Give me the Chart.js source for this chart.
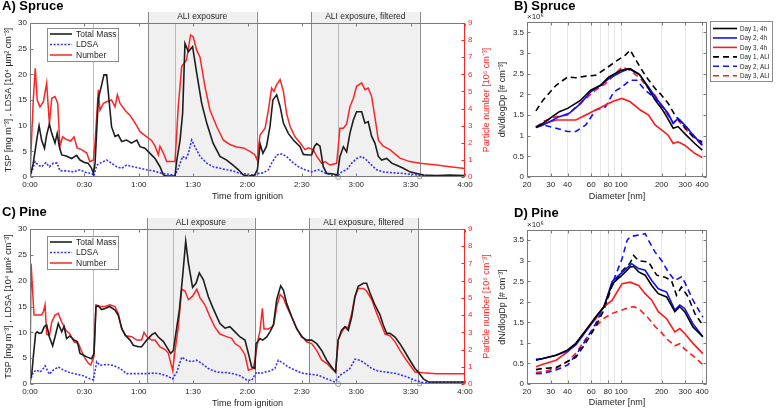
<!DOCTYPE html>
<html>
<head>
<meta charset="utf-8">
<title>Spruce and pine: time series and size distributions</title>
<script src="https://cdn.jsdelivr.net/npm/chart.js@4.4.1/dist/chart.umd.min.js"></script>
<style>
  body { margin: 0; background: #fff; }
  #wrap { position: relative; width: 778px; height: 411px; overflow: hidden; }
  canvas { position: absolute; }
</style>
</head>
<body>
<div id="wrap">
  <canvas id="chartA" width="495" height="205" style="left:0;top:0"></canvas>
  <canvas id="chartB" width="283" height="205" style="left:495px;top:0"></canvas>
  <canvas id="chartC" width="495" height="206" style="left:0;top:205px"></canvas>
  <canvas id="chartD" width="283" height="206" style="left:495px;top:205px"></canvas>
</div>
<script>
// time series: [minutes from ignition, value]; mass and LDSA on the left axis, number in 10^6 cm-3
const spruceMass = [[0,0],[1.8,2.7],[3.7,7.2],[5,10],[6.4,7.2],[8,5.6],[9.2,8.2],[10.7,10.3],[12,8.5],[13.8,6.6],[15,8.5],[16.2,5.9],[17.5,4.3],[20,4.1],[23,3.6],[25.7,4.2],[27.6,3.3],[30.3,2.8],[32,2.7],[34,1.7],[35,0.7],[35.9,2.7],[37.7,15.3],[39.5,17.9],[40.8,19.9],[42.3,19.9],[43.6,15],[45,9.8],[46.9,7.9],[48.7,8.2],[50.6,6.9],[53.3,7.2],[56,6.6],[58.9,7.2],[60.7,5.9],[63.4,5.6],[66.2,4.6],[69,3.6],[71.7,2.0],[73.6,0.4],[75.4,0.2],[80,0.2],[81,3.3],[82.8,7.2],[84.2,12.4],[85.5,26],[87.4,24.4],[89.7,25.4],[92,20.2],[94.7,14.4],[97.5,10.5],[101,6.6],[104.8,4.0],[108.5,3.3],[112,2.3],[115,1.4],[117.7,0.4],[121,0.2],[124,0.4],[125.5,1.5],[127,6.4],[128.5,4.6],[130.5,6.0],[132.4,9.8],[134,15],[136.1,16],[138,13.7],[139.8,10.5],[142.5,8.5],[145.3,7.2],[149,5.9],[150.8,4.4],[153.6,4.3],[155.4,4.3],[157,6.0],[158.2,6.5],[160,6.0],[161.8,2.0],[163.7,0.7],[167.4,0.6],[169.6,0.4],[171,4],[172.9,5.9],[174.7,4.9],[176.5,8.5],[178.4,11.1],[180.2,12.7],[183,12.7],[184.8,10.5],[186.6,10.8],[188.5,7.9],[190.3,6.6],[192.2,4],[194,3.3],[196.8,3.6],[199.6,2.7],[202.3,2.3],[206,1.7],[209.6,1.0],[213.4,0.7],[217.2,0.4],[224.3,0.3],[231.7,0.4],[240,0.3]];
const spruceLdsa = [[0,0],[2.8,3.0],[4.6,2.3],[6.4,2.0],[8.8,2.8],[10.7,2.0],[12.9,2.7],[15,2.7],[16.5,1.2],[20,1.2],[23.9,1.0],[27.6,1.4],[31.3,0.8],[34,0.7],[35.3,0.2],[36.8,2.3],[38.6,2.7],[42.3,3.3],[45,2.7],[47.8,2.0],[50.6,1.7],[53.3,2.3],[57,2.0],[60.7,1.7],[64.4,1.4],[68,1.2],[71.7,0.8],[75.4,0.6],[80,0.3],[81.8,1.7],[84.2,4.0],[86,3.6],[87.4,4.6],[89.2,7.2],[91,5.9],[93.8,4.0],[97.5,2.7],[101,2.0],[104.8,1.7],[108.5,1.4],[112,1.2],[115.9,0.7],[119.5,0.6],[123.2,0.3],[126,0.7],[128.8,0.8],[131.5,1.4],[133.3,2.7],[136.1,4.3],[138.9,4.5],[141.6,4.0],[144.4,3.0],[148.1,2.0],[151.7,1.4],[155.4,1.0],[159.1,1.4],[162.8,0.8],[166.5,0.4],[169.6,0.2],[172,1.0],[174.7,1.4],[177.5,2.7],[180.2,3.6],[183,4.0],[185.7,3.3],[188.5,2.3],[191.3,1.4],[194.9,1.0],[200.4,0.8],[206,0.7],[213.4,0.4],[220.8,0.2],[240,0.2]];
const spruceNumber = [[0,0.1],[1.8,4.5],[2.9,6.35],[4,4.5],[5.5,4.1],[7.4,4.4],[9.2,5.5],[10.7,3.1],[12,4.6],[13.8,4.7],[15.3,4.3],[16.5,1.8],[18,2.35],[20,2.2],[22.4,2.1],[24.3,2.35],[26,1.7],[28.5,1.6],[31.3,1.4],[33,0.9],[35,1.0],[35.9,2.0],[37.7,5.1],[38.6,3.9],[40.5,4.3],[42.3,4.4],[45,4.5],[46.9,4.1],[48.2,4.8],[49.7,4.3],[52.4,3.9],[55.2,3.6],[58,3.15],[60.7,2.65],[64.4,2.35],[67,2.15],[69,1.8],[70.8,1.3],[71.7,1.8],[73.6,1.4],[75.4,0.9],[80,0.9],[81.8,4.1],[83.7,6.45],[86.4,6.85],[88.6,8.3],[90,8.2],[92,7.4],[93.8,7.0],[96.5,5.3],[99.3,3.9],[103,2.95],[106.7,2.15],[110.3,1.9],[114,1.75],[117.7,1.7],[121.4,1.5],[124,1.3],[125.3,1.0],[126.9,2.45],[129.7,2.85],[131.5,3.9],[133.3,5.2],[134.6,5.0],[136.1,5.4],[138,5.7],[139.8,5.0],[141.6,3.7],[143.5,2.95],[146.2,2.35],[149,2.0],[151.7,1.6],[153.6,1.7],[156.3,1.6],[158.2,1.2],[160.9,0.8],[162.8,0.9],[165.5,0.7],[169.2,0.8],[171,2.85],[172.9,2.85],[174.7,3.1],[176.5,4.1],[178.4,4.6],[180.2,5.3],[183,5.5],[184.8,5.1],[186.6,5.2],[188.5,4.7],[190.3,3.5],[192.2,2.15],[194.9,1.8],[198.6,1.6],[204.1,1.1],[209.6,0.9],[215.2,0.8],[224.3,0.7],[231.7,0.6],[240,0.5]];

const pineMass = [[0,0.4],[1,2],[1.8,5.2],[3.1,9.8],[4,10.1],[5.1,9.8],[6.4,9.9],[7.9,11.1],[9.2,11.4],[10.7,9.1],[12.5,7.4],[13.8,9.1],[15.6,11.7],[17.5,10.1],[18.8,11.1],[20.2,8.8],[22,9.3],[24.3,8.5],[26.1,8.2],[27.6,5.9],[29.4,5.6],[31.6,5.2],[34,4.9],[35.3,5.9],[36.4,15],[37.7,15.1],[39.5,14.4],[41.4,14.6],[44,15.0],[46.9,14.3],[48.7,13.3],[50.6,10.8],[52.4,9.5],[55.2,8.5],[57,7.5],[59.8,7.2],[61.6,7.2],[64.4,8.5],[67.1,9.5],[69,9.9],[70.8,9.1],[73.6,8.2],[75.4,7.2],[77.6,5.9],[79.1,6.5],[80.6,10.1],[82.4,14.3],[84.2,20.8],[85.9,27.6],[87.4,23.4],[89.7,18.7],[91.6,19.5],[93.4,21.5],[95.6,20.2],[98.4,16.9],[101.1,14.6],[104.8,11.7],[107.6,10.8],[110.3,11.1],[113.1,10.1],[115.9,9.1],[118.6,8.5],[120.5,5.9],[122.3,3.3],[124.1,3.0],[124.7,7.8],[126.9,8.8],[128.4,8.5],[130.6,9.1],[132.4,10.1],[134.3,11.4],[136.1,16.3],[138.3,19],[139.8,18.2],[141.6,15.6],[144.4,13.0],[147.1,10.8],[149.9,9.1],[152.6,8.5],[155.4,8.5],[158.2,7.8],[160.9,6.5],[163.7,4.6],[166.4,3.3],[168.6,2.3],[170,8.5],[171.9,10.4],[173.8,11.1],[175.6,10.4],[177.5,13.0],[179.3,16.9],[181.1,18.9],[183.9,19.5],[185.7,19.5],[187.6,17.6],[190.3,15.3],[193.1,13.4],[194.9,11.4],[196.8,9.8],[198.6,9.8],[201.4,9.1],[204.1,7.8],[206.9,6.2],[209.6,4.6],[212.4,3.0],[214.2,2.3],[217,1.0],[219.8,0.4],[228,0.4],[240,0.4]];
const pineLdsa = [[0,0.5],[1.8,2.3],[3.7,2.7],[5.5,2.3],[7.4,3.0],[8.3,3.5],[10.7,1.9],[12.9,2.7],[15.6,3.3],[18.4,2.7],[22,2.2],[25.7,1.9],[29.4,1.6],[33.1,1.0],[35,0.8],[36.8,4.3],[38.6,3.6],[42.3,3.8],[46,3.6],[49.7,3.0],[53.3,2.0],[57,2.0],[60.7,2.0],[64.4,2.0],[68,2.1],[71.7,2.0],[75.4,1.6],[78.7,1.0],[81,2.3],[83.7,5.2],[86.4,4.6],[89.2,4.3],[92,4.6],[94.7,4.0],[98.4,3.0],[103,2.3],[108.5,2.2],[112.2,2.0],[115.9,1.6],[119.5,0.8],[122.3,0.7],[125,2.3],[126.9,2.0],[129.6,2.3],[132.4,2.5],[135.1,3.0],[137,4.6],[139.8,4.0],[142.5,3.3],[146.2,2.7],[149.9,2.1],[154.5,1.9],[159.1,1.7],[163.7,1.0],[168.2,0.4],[171,1.7],[173.8,2.3],[176.5,3.0],[179.3,4.8],[182,4.6],[184.8,4.0],[188.5,3.0],[192.2,2.5],[196.8,2.3],[202.3,2.0],[207.8,1.4],[212.4,0.7],[217,0.3],[240,0.3]];
const pineNumber = [[0,0.2],[0.6,7.0],[2.2,4.0],[4.6,4.0],[6.4,4.0],[7.4,4.2],[8.3,4.6],[9.2,2.9],[10.7,2.8],[12,3.6],[13.8,4.0],[15.6,4.1],[17.5,3.6],[19.9,3.1],[22,2.9],[24.3,2.45],[26.7,2.35],[28.5,1.9],[30.3,1.5],[32.2,1.2],[33.5,1.1],[35.3,1.6],[36.4,4.6],[38.6,4.5],[41.4,4.5],[44.1,4.6],[46.9,4.5],[48.7,4.1],[50.6,3.2],[53,2.8],[56.1,2.75],[58.9,2.55],[61.6,2.55],[62.9,3.0],[64.4,2.75],[67.1,2.55],[69,2.55],[71.7,2.15],[74.5,2.0],[76.3,1.8],[77.2,1.4],[78.7,0.8],[80,1.9],[81.8,3.3],[83.7,5.5],[85.5,5.4],[87.4,4.9],[89.7,5.1],[92,5.5],[93.8,5.0],[96.5,4.6],[99.3,3.9],[102,3.3],[104.8,2.9],[108.5,2.75],[111.3,2.65],[113.1,2.35],[115.9,2.15],[118.6,1.7],[120.5,0.8],[123.2,0.9],[124.1,1.4],[126,2.65],[126.9,3.1],[128.2,4.4],[129.1,3.2],[131.5,3.2],[133.3,3.3],[134.6,3.5],[136.1,4.5],[138,5.2],[139.8,5.0],[141.6,4.5],[144.4,3.9],[147.1,3.2],[149.9,2.8],[152.6,2.45],[155.4,2.35],[158.2,1.95],[160.9,1.4],[163.7,1.2],[166.4,0.9],[168.6,0.7],[170,2.55],[171.9,3.0],[173.8,3.3],[175.6,3.3],[177.5,4.1],[179.3,5.1],[181.1,5.55],[183.9,5.55],[185.7,5.4],[188.5,4.9],[191.3,4.1],[194,3.4],[195.9,2.9],[198.6,2.8],[201.4,2.45],[204.1,1.95],[206.9,1.5],[209.6,1.1],[212.4,0.7],[217,0.65],[224.3,0.6],[240,0.6]];

// exposure windows (minutes) and the thin marker lines
const spruceWindows = [[65,125],[155,215]];
const spruceLines = [35,80,170];
const pineWindows = [[64.5,124],[154,214]];
const pineLines = [34.5,79,169];
const windowLabels = ['ALI exposure','ALI exposure, filtered'];
const startMarks = [[170,0]];
const endMarks = [[215,0]];

// size distributions: [diameter nm, dN/dlogDp in 10^6 cm-3]
const spruceDay1 = [[23.3,1.2],[26.3,1.30],[34.8,1.58],[40.1,1.66],[50.2,1.86],[59.4,2.10],[70.5,2.22],[81.2,2.42],[100,2.58],[117,2.62],[139,2.46],[160,2.14],[179,1.86],[200,1.66],[218,1.46],[244,1.18],[265,1.22],[297,1.05],[353,0.81],[401,0.65]];
const spruceDay2 = [[23.3,1.2],[26.3,1.26],[34.8,1.46],[41.2,1.54],[50.2,1.78],[59.4,2.06],[70.5,2.22],[81.2,2.38],[100,2.54],[114,2.62],[135,2.50],[160,2.18],[179,1.94],[200,1.74],[224,1.54],[244,1.30],[265,1.42],[297,1.26],[353,0.97],[401,0.77]];
const spruceDay3 = [[23.3,1.22],[26.3,1.28],[32.9,1.38],[40.1,1.38],[46.1,1.38],[54.7,1.50],[64.7,1.62],[76.7,1.74],[88.3,1.84],[101.7,1.90],[117,1.82],[139,1.62],[160,1.50],[179,1.26],[200,1.14],[224,1.01],[244,0.81],[265,0.85],[297,0.77],[353,0.57],[401,0.47]];
const spruceAli1 = [[23.3,1.6],[26.3,1.86],[32.9,2.22],[40.1,2.42],[46.1,2.40],[54.7,2.44],[64.7,2.46],[76.7,2.62],[90.8,2.79],[107.6,2.95],[117,3.07],[131,2.79],[151,2.46],[179,2.14],[200,1.98],[224,1.78],[251,1.50],[281,1.30],[315,1.10],[353,0.93],[401,0.85]];
const spruceAli2 = [[23.3,1.2],[26.3,1.26],[32.9,1.18],[40.1,1.10],[46.1,1.10],[54.7,1.26],[64.7,1.62],[76.7,1.70],[88.3,2.06],[101.7,2.18],[117,2.34],[131,2.34],[151,2.10],[179,1.90],[200,1.74],[224,1.50],[244,1.30],[265,1.42],[297,1.26],[353,0.97],[401,0.81]];
const spruceAli3 = [[23.3,1.2],[26.3,1.34],[32.9,1.46],[40.1,1.50],[46.1,1.70],[54.7,1.90],[64.7,2.10],[76.7,2.26],[88.3,2.46],[101.7,2.66],[117,2.58],[139,2.38],[160,2.14],[179,1.98],[200,1.70],[224,1.50],[244,1.30],[265,1.38],[297,1.18],[353,0.93],[401,0.77]];

const pineDay1 = [[23.3,0.58],[26.3,0.62],[32.9,0.70],[40.1,0.83],[46.1,0.99],[54.7,1.31],[64.7,1.63],[74.6,1.88],[85.9,2.44],[101.7,2.65],[117,2.85],[124,2.86],[135,2.73],[151,2.65],[169,2.40],[189,2.20],[218,2.12],[251,1.76],[273,1.88],[297,1.76],[342,1.39],[405,1.15]];
const pineDay2 = [[23.3,0.60],[26.3,0.62],[32.9,0.70],[40.1,0.80],[46.1,0.95],[54.7,1.28],[64.7,1.62],[74.6,1.88],[85.9,2.50],[101.7,2.72],[120,2.93],[135,2.81],[151,2.77],[169,2.52],[189,2.32],[218,2.24],[251,1.80],[273,1.92],[297,1.84],[342,1.47],[405,1.15]];
const pineDay3 = [[23.3,0.42],[26.3,0.48],[32.9,0.58],[40.1,0.78],[46.1,0.98],[54.7,1.30],[64.7,1.58],[74.6,1.88],[85.9,2.04],[101.7,2.44],[117,2.48],[135,2.40],[151,2.20],[169,2.04],[189,1.76],[218,1.59],[251,1.27],[273,1.35],[297,1.23],[342,0.99],[405,0.74]];
const pineAli1 = [[23.3,0.35],[26.3,0.38],[32.9,0.40],[40.1,0.55],[46.1,0.65],[54.7,1.00],[64.7,1.40],[74.6,1.80],[85.9,2.40],[101.7,2.75],[117,2.95],[124,3.13],[135,3.0],[160,2.97],[184,2.65],[212,2.60],[237,2.52],[258,2.16],[281,2.36],[315,2.12],[353,1.72],[405,1.43]];
const pineAli2 = [[23.3,0.25],[26.3,0.26],[32.9,0.34],[40.1,0.46],[46.1,0.70],[54.7,1.07],[64.7,1.47],[74.6,1.88],[85.9,2.44],[101.7,3.05],[111,3.50],[117,3.59],[131,3.62],[151,3.66],[160,3.50],[179,3.21],[200,3.01],[224,2.73],[251,2.52],[281,2.61],[297,2.48],[342,2.04],[405,1.63]];
const pineAli3 = [[23.3,0.28],[26.3,0.30],[32.9,0.38],[40.1,0.55],[46.1,0.75],[54.7,1.10],[64.7,1.40],[74.6,1.60],[85.9,1.72],[101.7,1.80],[117,1.87],[126,1.88],[139,1.80],[160,1.60],[179,1.40],[200,1.25],[218,1.10],[251,0.93],[273,0.98],[297,0.85],[353,0.65],[405,0.47]];

const sizeLabels = ['Day 1, 4h','Day 2, 4h','Day 3, 4h','Day 1, ALI','Day 2, ALI','Day 3, ALI'];
const diaGrid = [20,30,40,50,60,70,80,90,100,200,300,400];
const diaLabels = [20,30,40,60,80,100,200,300,400];

const FONT = '"Liberation Sans", Arial, sans-serif';
const TXT = '#262626';
const AXIS = '#7a7a7a';
const RED = '#ff2424';

function pts(arr) { return arr.map(p => ({x: p[0], y: p[1]})); }
function hm(v) { return Math.floor(v / 60) + ':' + String(Math.round(v % 60)).padStart(2, '0'); }
function crisp(v) { return Math.round(v) + 0.5; }

// shaded windows, box, inward ticks, legend and panel labels
const panelPlugin = {
  id: 'panel',
  beforeDatasetsDraw(chart, args, o) {
    const {ctx, chartArea: a} = chart;
    const x = chart.scales.x;
    ctx.save();
    const top = a.top - (o.rise || 0);
    (o.windows || []).forEach(w => {
      const x0 = x.getPixelForValue(w[0]), x1 = x.getPixelForValue(w[1]);
      ctx.fillStyle = '#f0f0f0';
      ctx.fillRect(x0, top, x1 - x0, a.bottom - top);
    });
    ctx.lineWidth = 1;
    ctx.strokeStyle = '#b8b8b8';
    (o.lines || []).forEach(t => {
      const px = crisp(x.getPixelForValue(t));
      ctx.beginPath(); ctx.moveTo(px, a.top); ctx.lineTo(px, a.bottom); ctx.stroke();
    });
    ctx.strokeStyle = '#8c8c8c';
    ctx.fillStyle = TXT;
    ctx.font = '8.5px ' + FONT;
    ctx.textAlign = 'center';
    ctx.textBaseline = 'middle';
    (o.windows || []).forEach((w, i) => {
      const x0 = x.getPixelForValue(w[0]), x1 = x.getPixelForValue(w[1]);
      [x0, x1].forEach(px => {
        ctx.beginPath(); ctx.moveTo(crisp(px), top); ctx.lineTo(crisp(px), a.bottom); ctx.stroke();
      });
      ctx.fillText(windowLabels[i], (x0 + x1) / 2, a.top - o.rise / 2 - 0.5);
    });
    ctx.restore();
  },
  afterDatasetsDraw(chart, args, o) {
    const {ctx, chartArea: a, scales} = chart;
    ctx.save();
    ctx.lineWidth = 1;
    ctx.strokeStyle = AXIS;
    const L = Math.round(a.left) + 0.5, R = Math.round(a.right) - 0.5;
    const T = Math.round(a.top) + 0.5, B = Math.round(a.bottom) - 0.5;
    ctx.strokeRect(L, T, R - L, B - T);
    const tk = 3;
    // x ticks
    const xv = o.xTicks || scales.x.ticks.map(t => t.value);
    xv.forEach(v => {
      const px = crisp(scales.x.getPixelForValue(v));
      ctx.beginPath();
      ctx.moveTo(px, B); ctx.lineTo(px, B - tk);
      ctx.moveTo(px, T); ctx.lineTo(px, T + tk);
      ctx.stroke();
    });
    scales.y.ticks.forEach(t => {
      const py = crisp(scales.y.getPixelForValue(t.value));
      ctx.beginPath();
      ctx.moveTo(L, py); ctx.lineTo(L + tk, py);
      if (!scales.yN) { ctx.moveTo(R, py); ctx.lineTo(R - tk, py); }
      ctx.stroke();
    });
    if (scales.yN) {
      ctx.strokeStyle = RED;
      ctx.beginPath(); ctx.moveTo(R, T); ctx.lineTo(R, B); ctx.stroke();
      scales.yN.ticks.forEach(t => {
        const py = crisp(scales.yN.getPixelForValue(t.value));
        ctx.beginPath(); ctx.moveTo(R, py); ctx.lineTo(R - tk, py); ctx.stroke();
      });
      ctx.save();
      ctx.translate(a.right + 22, (a.top + a.bottom) / 2);
      ctx.rotate(-Math.PI / 2);
      ctx.fillStyle = RED;
      ctx.font = '9px ' + FONT;
      ctx.textAlign = 'center';
      ctx.textBaseline = 'middle';
      ctx.fillText('Particle number [10⁶ cm⁻³]', 0, 0);
      ctx.restore();
    }
    // legend
    if (o.legend) {
      const g = o.legend;
      ctx.fillStyle = '#fff';
      ctx.fillRect(g.x, g.y, g.w, g.h);
      ctx.strokeStyle = '#8c8c8c';
      ctx.strokeRect(g.x + 0.5, g.y + 0.5, g.w, g.h);
      ctx.font = g.size + 'px ' + FONT;
      ctx.textAlign = 'left';
      ctx.textBaseline = 'middle';
      g.items.forEach((idx, i) => {
        const ds = chart.data.datasets[idx];
        const y = g.y + g.first + i * g.step;
        ctx.strokeStyle = ds.borderColor;
        ctx.lineWidth = ds.borderWidth;
        ctx.setLineDash(ds.borderDash || []);
        ctx.beginPath(); ctx.moveTo(g.x + g.l0, y); ctx.lineTo(g.x + g.l1, y); ctx.stroke();
        ctx.setLineDash([]);
        ctx.fillStyle = TXT;
        ctx.fillText(ds.label, g.x + g.tx, y + 0.5);
      });
    }
    // panel title
    ctx.fillStyle = '#000';
    ctx.font = 'bold 13px ' + FONT;
    ctx.textAlign = 'left';
    ctx.textBaseline = 'middle';
    ctx.fillText(o.title, o.titleX, o.titleY);
    if (o.exponent) {
      ctx.font = '8px ' + FONT;
      ctx.fillStyle = TXT;
      ctx.textBaseline = 'bottom';
      ctx.fillText('×10⁶', a.left, a.top - 1);
    }
    ctx.restore();
  }
};

const tickFont = {family: FONT, size: 8};
const titleFont = {family: FONT, size: 9};

function timeChart(id, c) {
  return new Chart(document.getElementById(id), {
    type: 'line',
    data: {
      datasets: [
        {label: 'Total Mass', data: pts(c.mass), borderColor: '#1e1e1e', borderWidth: 1.6, yAxisID: 'y'},
        {label: 'LDSA', data: pts(c.ldsa), borderColor: '#3030ff', borderWidth: 1.6, borderDash: [2, 1.6], yAxisID: 'y'},
        {label: 'Number', data: pts(c.num), borderColor: RED, borderWidth: 1.5, yAxisID: 'yN'},
        {label: 'start', data: pts(startMarks), showLine: false, pointRadius: 2.5, pointStyle: 'circle',
         borderColor: '#a0a0a0', borderWidth: 1, backgroundColor: 'rgba(0,0,0,0)', clip: false, yAxisID: 'y'},
        {label: 'end', data: pts(endMarks), showLine: false, pointRadius: 2.5, pointStyle: 'rect',
         borderColor: '#a0a0a0', borderWidth: 1, backgroundColor: 'rgba(0,0,0,0)', clip: false, yAxisID: 'y'}
      ]
    },
    options: {
      responsive: false, animation: false, events: [],
      elements: {point: {radius: 0}, line: {tension: 0}},
      layout: {padding: {top: c.top, left: 0, right: 0, bottom: 0}},
      plugins: {
        legend: {display: false}, tooltip: {enabled: false},
        panel: {
          windows: c.windows, lines: c.lines, rise: 11,
          title: c.title, titleX: 2, titleY: c.titleY,
          legend: {x: 47, y: c.legY, w: 71, h: 33, first: 6, step: 10.5, l0: 3, l1: 25, tx: 29, size: 8.5, items: [0, 1, 2]}
        }
      },
      scales: {
        x: {
          type: 'linear', min: 0, max: 240,
          grid: {display: false, drawTicks: false}, border: {display: false},
          ticks: {font: tickFont, color: TXT, stepSize: 30, padding: 3, maxRotation: 0, autoSkip: false, callback: v => hm(v)},
          title: {display: true, text: 'Time from ignition', font: titleFont, color: TXT, padding: {top: 0, bottom: c.xPad}},
          afterFit: s => { s.height = c.xh; }
        },
        y: {
          position: 'left', min: 0, max: 30,
          grid: {display: false, drawTicks: false}, border: {display: false},
          ticks: {font: tickFont, color: TXT, stepSize: 5, padding: 3, autoSkip: false, callback: v => String(v)},
          title: {display: true, text: 'TSP [mg m⁻³] , LDSA [10⁴ µm² cm⁻³]', font: titleFont, color: TXT, padding: {top: 3, bottom: 0}},
          afterFit: s => { s.width = 30; }
        },
        yN: {
          position: 'right', min: 0, max: 9,
          grid: {display: false, drawTicks: false}, border: {display: false},
          ticks: {font: tickFont, color: RED, stepSize: 1, padding: 3, autoSkip: false, callback: v => String(v)},
          afterFit: s => { s.width = 30; }
        }
      }
    },
    plugins: [panelPlugin]
  });
}

function sizeChart(id, c) {
  const colors = ['#000000', '#1010ff', '#ff1a1a'];
  const datasets = c.series.map((s, i) => ({
    label: sizeLabels[i],
    data: pts(s),
    borderColor: colors[i % 3],
    borderWidth: 1.6,
    borderDash: i >= 3 ? [6, 4] : undefined
  }));
  return new Chart(document.getElementById(id), {
    type: 'line',
    data: {datasets: datasets},
    options: {
      responsive: false, animation: false, events: [],
      elements: {point: {radius: 0}, line: {tension: 0}},
      layout: {padding: {top: c.top, left: 0, right: 71, bottom: 0}},
      plugins: {
        legend: {display: false}, tooltip: {enabled: false},
        panel: {
          title: c.title, titleX: 19, titleY: c.titleY, exponent: true, xTicks: diaLabels,
          legend: c.legend ? {x: 215, y: 21, w: 62, h: 60, first: 7.5, step: 9.45, l0: 3, l1: 27, tx: 30, size: 6.3, items: [0, 1, 2, 3, 4, 5]} : null
        }
      },
      scales: {
        x: {
          type: 'logarithmic', min: 20, max: 435,
          afterBuildTicks: s => { s.ticks = diaGrid.map(v => ({value: v})); },
          grid: {display: true, drawTicks: false, color: '#e2e2e2', lineWidth: 0.8}, border: {display: false},
          ticks: {font: tickFont, color: TXT, padding: 3, maxRotation: 0, autoSkip: false,
                  callback: v => diaLabels.includes(v) ? String(v) : ''},
          title: {display: true, text: 'Diameter [nm]', font: titleFont, color: TXT, padding: {top: 0, bottom: c.xPad}},
          afterFit: s => { s.height = c.xh; }
        },
        y: {
          min: 0, max: 3.75,
          grid: {display: false, drawTicks: false}, border: {display: false},
          ticks: {font: tickFont, color: TXT, stepSize: 0.5, includeBounds: false, padding: 3, autoSkip: false, callback: v => String(v)},
          title: {display: true, text: 'dN/dlogDp [# cm⁻³]', font: titleFont, color: TXT, padding: {top: 2.6, bottom: 0}},
          afterFit: s => { s.width = 32; }
        }
      }
    },
    plugins: [panelPlugin]
  });
}

timeChart('chartA', {
  mass: spruceMass, ldsa: spruceLdsa, num: spruceNumber,
  windows: spruceWindows, lines: spruceLines,
  title: 'A) Spruce', titleY: 6, top: 23, xh: 28, xPad: 2.6, legY: 28
});
timeChart('chartC', {
  mass: pineMass, ldsa: pineLdsa, num: pineNumber,
  windows: pineWindows, lines: pineLines,
  title: 'C) Pine', titleY: 7.5, top: 24, xh: 27, xPad: 1.6, legY: 31
});
sizeChart('chartB', {
  series: [spruceDay1, spruceDay2, spruceDay3, spruceAli1, spruceAli2, spruceAli3],
  title: 'B) Spruce', titleY: 6, top: 22, xh: 28, xPad: 2.9, legend: true
});
sizeChart('chartD', {
  series: [pineDay1, pineDay2, pineDay3, pineAli1, pineAli2, pineAli3],
  title: 'D) Pine', titleY: 8.5, top: 25, xh: 27, xPad: 2.6, legend: false
});
</script>
</body>
</html>
